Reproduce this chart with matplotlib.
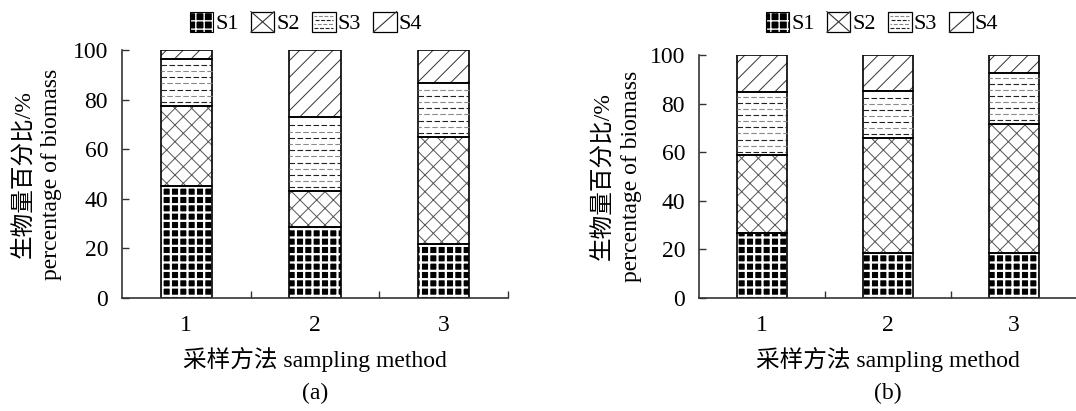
import matplotlib
matplotlib.use("Agg")
import matplotlib.pyplot as plt
import numpy as np
from matplotlib.patches import Patch, Rectangle
from matplotlib.lines import Line2D
from matplotlib.legend_handler import HandlerBase

plt.rcParams['font.family'] = ['Liberation Serif', 'Noto Sans CJK SC']
plt.rcParams['font.size'] = 17

methods = ["1", "2", "3"]
series = ["S1", "S2", "S3", "S4"]

# percentage of biomass, panel (a)
a_s1 = [45.3, 28.8, 21.8]
a_s2 = [32.2, 14.3, 43.2]
a_s3 = [18.7, 29.7, 21.5]
a_s4 = [3.8, 27.2, 13.5]

# panel (b)
b_s1 = [26.9, 18.4, 18.4]
b_s2 = [31.8, 47.4, 53.2]
b_s3 = [25.9, 19.5, 21.0]
b_s4 = [15.4, 14.7, 7.4]

panel_labels = ["(a)", "(b)"]
ylabel = "生物量百分比/%\npercentage of biomass"
xlabel = "采样方法 sampling method"

DASH_STEP = 2.5  # spacing of the dashed rows in S3, in y units


class BoxHandler(HandlerBase):
    """legend swatch: white box with drawn pattern lines"""

    def __init__(self, kind):
        super().__init__()
        self.kind = kind

    def create_artists(self, legend, orig_handle, xdescent, ydescent,
                       width, height, fontsize, trans):
        x0, y0 = -xdescent, -ydescent
        x1, y1 = x0 + width, y0 + height
        arts = [Rectangle((x0, y0), width, height, fc="white", ec="black",
                          lw=0.9, transform=trans)]
        if self.kind == "dash":
            for i, f in enumerate((0.2, 0.4, 0.6, 0.8)):
                y = y0 + f * height
                c = "#222222" if i % 2 == 0 else "#888888"
                arts.append(Line2D([x0 + 1.5, x1 - 1.5], [y, y], color=c,
                                   lw=0.8, ls=(i * 2, (3.5, 1.5)),
                                   transform=trans))
        else:
            arts.append(Line2D([x0, x1], [y0, y1], color="#333333", lw=0.8,
                               transform=trans))
            if self.kind == "cross":
                arts.append(Line2D([x0, x1], [y1, y0], color="#333333",
                                   lw=0.8, transform=trans))
        return arts


def draw_panel(ax, s1, s2, s3, s4):
    x = np.arange(1, len(methods) + 1)
    w = 0.4
    s1 = np.array(s1)
    s2 = np.array(s2)
    s3 = np.array(s3)
    s4 = np.array(s4)
    b2 = s1
    b3 = s1 + s2
    b4 = s1 + s2 + s3

    with plt.rc_context({"hatch.linewidth": 1.6}):
        ax.bar(x, s1, w, color="black", edgecolor="white", hatch="++", lw=0)
    with plt.rc_context({"hatch.linewidth": 0.7}):
        ax.bar(x, s2, w, bottom=b2, color="white", edgecolor="#555555",
               hatch="xx", lw=0)
        ax.bar(x, s4, w, bottom=b4, color="white", edgecolor="#333333",
               hatch="//", lw=0)
    ax.bar(x, s3, w, bottom=b3, color="white", lw=0)

    # dashed rows of S3
    for xi, lo, hi in zip(x, b3, b3 + s3):
        ys = np.arange(lo + DASH_STEP * 0.6, hi - DASH_STEP * 0.3, DASH_STEP)
        for k, yy in enumerate(ys):
            c = "#222222" if k % 2 == 0 else "#8a8a8a"
            ax.hlines(yy, xi - w / 2, xi + w / 2, colors=c, lw=0.8,
                      linestyles=(2 * (k % 2), (5, 2.2)))

    for vals, bot in [(s1, 0), (s2, b2), (s3, b3), (s4, b4)]:
        ax.bar(x, vals, w, bottom=bot, fill=False, edgecolor="black", lw=1.2)

    ax.set_xlim(0.5, 3.5)
    ax.set_ylim(0, 100)
    ax.set_yticks(np.arange(0, 101, 20))
    ax.set_xticks(x)
    ax.set_xticklabels(methods)
    ax.set_xticks([1.5, 2.5, 3.5], minor=True)
    ax.tick_params(axis="x", which="major", length=0, pad=12)
    ax.tick_params(axis="x", which="minor", direction="in", length=5,
                   color="#333333", width=1)
    ax.tick_params(axis="y", direction="in", length=5, color="#333333",
                   width=1, pad=10)
    for side in ("top", "right"):
        ax.spines[side].set_visible(False)
    for side in ("left", "bottom"):
        ax.spines[side].set_color("#333333")
        ax.spines[side].set_linewidth(1.2)
    ax.set_ylabel(ylabel, linespacing=1.45)
    ax.set_xlabel(xlabel, labelpad=8)


fig = plt.figure(figsize=(10.76, 4.11), dpi=100)
ax1 = fig.add_axes([122 / 1076, 113 / 411, 386 / 1076, 248 / 411])
ax2 = fig.add_axes([699 / 1076, 113 / 411, 378 / 1076, 243 / 411])

draw_panel(ax1, a_s1, a_s2, a_s3, a_s4)
draw_panel(ax2, b_s1, b_s2, b_s3, b_s4)
ax1.yaxis.set_label_coords(-0.155, 0.5)
ax2.yaxis.set_label_coords(-0.151, 0.5)

for ax, lab in zip((ax1, ax2), panel_labels):
    ax.text(0.5, (298 - 393) / (ax.bbox.height), lab, transform=ax.transAxes,
            ha="center", va="center")

with plt.rc_context({"hatch.linewidth": 1.6}):
    h1 = (Patch(fc="black", ec="white", hatch="++", lw=0),
          Patch(fill=False, ec="black", lw=0.8))
h2 = Patch(fc="white", ec="black")
h3 = Patch(fc="white", ec="black")
h4 = Patch(fc="white", ec="black")

for cx in (306 / 1076, 882 / 1076):
    fig.legend([h1, h2, h3, h4], series, loc="center",
               bbox_to_anchor=(cx, 1 - 23 / 411), ncol=4, frameon=False,
               handlelength=1.05, handleheight=1.05, handletextpad=0.1,
               columnspacing=0.55, borderpad=0, fontsize=16,
               handler_map={h2: BoxHandler("cross"), h3: BoxHandler("dash"),
                            h4: BoxHandler("diag")})

fig.savefig("out.png", dpi=100)
